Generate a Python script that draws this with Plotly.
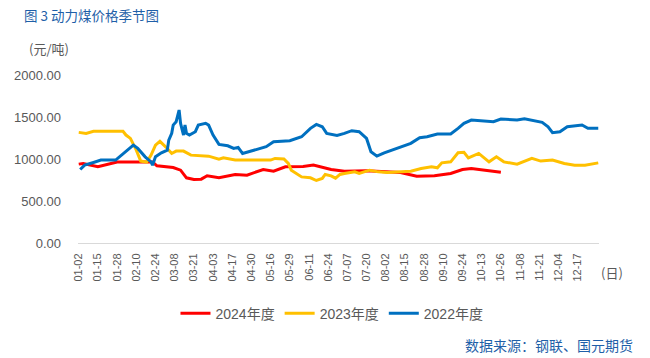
import pandas as pd
import plotly.graph_objects as go

# Category axis: calendar days (MM-DD) with holiday gaps
missing_days = ["02-17", "04-05", "05-01", "05-02", "05-03", "09-16",
                "10-01", "10-02", "10-03", "10-04", "10-05", "10-06"]
all_days = [d.strftime("%m-%d") for d in pd.date_range("2024-01-02", "2024-12-31")]
categories = [d for d in all_days if d not in missing_days]

tick_labels = ["01-02", "01-15", "01-28", "02-10", "02-24", "03-08", "03-21",
               "04-03", "04-17", "04-30", "05-16", "05-29", "06-11", "06-24",
               "07-07", "07-20", "08-02", "08-15", "08-28", "09-10", "09-24",
               "10-13", "10-26", "11-08", "11-21", "12-04", "12-17"]

# 2024
d2024 = ["01-02", "01-05", "01-15", "01-25", "01-28", "02-22", "02-25", "03-07",
         "03-12", "03-16", "03-21", "03-26", "03-30", "04-08", "04-19", "04-27",
         "05-11", "05-18", "05-26", "06-07", "06-14", "06-26", "07-05", "07-20",
         "08-12", "08-23", "09-04", "09-15", "09-24", "09-30", "10-15", "10-26"]
v2024 = [939, 947, 907, 947, 963, 963, 919, 899,
         867, 776, 756, 760, 800, 777, 816, 808,
         875, 855, 907, 911, 927, 875, 855, 859,
         840, 796, 800, 828, 875, 887, 864, 843]

# 2023
d2023 = ["01-02", "01-07", "01-12", "02-01", "02-03", "02-06", "02-10", "02-13",
         "02-18", "02-21", "02-24", "02-27", "03-03", "03-06", "03-09", "03-14",
         "03-19", "03-31", "04-08", "04-11", "04-19", "05-16", "05-19", "05-25",
         "05-28", "05-30", "06-06", "06-12", "06-16", "06-20", "06-22", "06-26",
         "06-29", "07-02", "07-05", "07-12", "07-15", "07-22", "07-28", "08-03",
         "08-19", "08-26", "09-02", "09-06", "09-09", "09-15", "09-21", "09-25",
         "09-28", "10-11", "10-18", "10-23", "10-28", "11-06", "11-16", "11-22",
         "11-30", "12-08", "12-15", "12-22", "12-31"]
v2023 = [1317, 1305, 1329, 1329, 1285, 1245, 1106, 975,
         962, 1046, 1166, 1210, 1126, 1066, 1094, 1094,
         1046, 1034, 998, 1014, 987, 987, 1007, 1000,
         947, 867, 787, 776, 744, 768, 816, 800,
         772, 816, 828, 847, 828, 867, 847, 840,
         855, 887, 907, 895, 954, 966, 1074, 1080,
         1014, 1066, 966, 1026, 966, 939, 1007, 975,
         987, 947, 927, 927, 954]

# 2022
d2022 = ["01-03", "01-06", "01-12", "01-17", "01-27", "02-03", "02-08", "02-11",
         "02-16", "02-21", "02-22", "02-24", "02-28", "03-03", "03-04", "03-06",
         "03-07", "03-09", "03-11", "03-12", "03-14", "03-15", "03-16", "03-18",
         "03-22", "03-24", "03-29", "03-31", "04-03", "04-08", "04-14", "04-18",
         "04-21", "04-24", "05-06", "05-13", "05-18", "05-29", "06-06", "06-12",
         "06-16", "06-20", "06-23", "06-26", "06-30", "07-05", "07-10", "07-15",
         "07-20", "07-23", "07-27", "08-01", "08-10", "08-19", "08-25", "08-30",
         "09-06", "09-15", "09-21", "09-25", "09-30", "10-21", "10-26", "11-06",
         "11-11", "11-16", "11-23", "11-27", "11-30", "12-05", "12-10", "12-20",
         "12-24", "12-31"]
v2022 = [875, 927, 959, 987, 987, 1086, 1166, 1126,
         1026, 966, 927, 1026, 1074, 1106, 1225, 1305,
         1404, 1444, 1583, 1424, 1285, 1404, 1305, 1285,
         1325, 1404, 1424, 1404, 1285, 1174, 1157, 1126,
         1138, 1066, 1106, 1146, 1205, 1217, 1265, 1365,
         1412, 1384, 1305, 1293, 1280, 1305, 1337, 1325,
         1245, 1086, 1034, 1074, 1126, 1186, 1253, 1265,
         1297, 1297, 1365, 1424, 1464, 1444, 1476, 1464,
         1480, 1464, 1436, 1384, 1313, 1325, 1384, 1404,
         1365, 1365]

series = [("2024年度", d2024, v2024, "#FF0000"),
          ("2023年度", d2023, v2023, "#FFC000"),
          ("2022年度", d2022, v2022, "#0070C0")]

FONT = "Liberation Sans, Noto Sans CJK SC, sans-serif"
CJK = "Noto Sans CJK SC, sans-serif"
GREY = "#595959"

fig = go.Figure()
for name, xs, ys, col in series:
    fig.add_trace(go.Scatter(x=xs, y=ys, name=name, mode="lines",
                             line=dict(color=col, width=3)))

fig.update_layout(
    width=650, height=358,
    margin=dict(l=78, r=51, t=75, b=115),
    paper_bgcolor="white", plot_bgcolor="white",
    font=dict(family=FONT, size=12, color=GREY),
    showlegend=True,
    legend=dict(orientation="h", x=0.4875, xanchor="center", y=-0.42, yanchor="middle",
                font=dict(family=FONT, size=14, color=GREY), itemwidth=30,
                tracegroupgap=0),
)
fig.update_xaxes(type="category", categoryorder="array", categoryarray=categories,
                 range=[-0.5, len(categories) - 0.5],
                 tickmode="array", tickvals=tick_labels, ticktext=tick_labels,
                 tickangle=-90, showgrid=False, showline=True, linecolor="#D9D9D9",
                 linewidth=1, ticks="", ticklabelstandoff=5,
                 tickfont=dict(family=FONT, size=11, color=GREY), zeroline=False)
fig.update_yaxes(range=[0, 2000], tickvals=[0, 500, 1000, 1500, 2000],
                 tickformat=".2f", showgrid=False, showline=False, zeroline=False,
                 ticks="", ticklabelstandoff=16,
                 tickfont=dict(family=FONT, size=13, color=GREY))

fig.add_annotation(text="图 3 动力煤价格季节图", xref="paper", yref="paper",
                   x=-0.1075, y=1.358, xanchor="left", yanchor="middle", showarrow=False,
                   font=dict(family=CJK, size=13.5, color="#1F5FA8"))
fig.add_annotation(text="(元/吨)", xref="paper", yref="paper",
                   x=-0.0555, y=1.155, xanchor="center", yanchor="middle", showarrow=False,
                   font=dict(family=CJK, size=13, color=GREY))
fig.add_annotation(text="(日)", xref="paper", yref="paper",
                   x=1.0, y=-0.175, xanchor="left", yanchor="middle", showarrow=False,
                   font=dict(family=CJK, size=13, color=GREY))
fig.add_annotation(text="数据来源：钢联、国元期货", xref="paper", yref="paper",
                   x=1.069, y=-0.61, xanchor="right", yanchor="middle", showarrow=False,
                   font=dict(family=CJK, size=14, color="#1F5FA8"))

fig.write_html("out.html", config={"displayModeBar": False},
               post_script="document.body.style.margin='0';")
